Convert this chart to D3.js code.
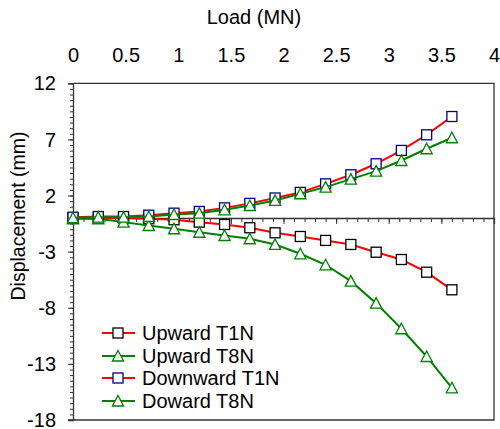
<!DOCTYPE html>
<html><head><meta charset="utf-8">
<script src="https://cdn.jsdelivr.net/npm/d3@7"></script>
<style>body{margin:0;background:#fff}svg{display:block}text{font-family:"Liberation Sans",Arial,sans-serif;fill:#000}</style>
</head><body><svg id="c" width="500" height="429"></svg>
<script>
const loads = [0, 0.24, 0.48, 0.72, 0.96, 1.2, 1.44, 1.68, 1.92, 2.16, 2.4, 2.64, 2.88, 3.12, 3.36, 3.6];
const upwardT1N = [0, 0, 0, -0.07, -0.16, -0.37, -0.58, -0.87, -1.32, -1.65, -2.0, -2.36, -3.05, -3.7, -4.83, -6.4];
const upwardT8N = [-0.07, -0.07, -0.37, -0.67, -0.96, -1.27, -1.56, -1.85, -2.36, -3.19, -4.17, -5.63, -7.59, -9.87, -12.34, -15.13];
const downwardT1N = [0.07, 0.13, 0.13, 0.25, 0.43, 0.58, 0.9, 1.3, 1.78, 2.28, 3.04, 3.85, 4.83, 6.02, 7.41, 9.04];
const dowardT8N = [0.02, 0.07, 0.07, 0.13, 0.31, 0.43, 0.73, 1.11, 1.56, 2.16, 2.75, 3.46, 4.17, 5.12, 6.17, 7.15];
const xTicks = [0, 0.5, 1, 1.5, 2, 2.5, 3, 3.5, 4];
const yTicks = [12, 7, 2, -3, -8, -13, -18];
const seriesNames = ["Upward T1N", "Upward T8N", "Downward T1N", "Doward T8N"];

const series = [
  {name: seriesNames[0], values: upwardT1N, line: "#ff0000", mark: "square", stroke: "#000000"},
  {name: seriesNames[1], values: upwardT8N, line: "#008000", mark: "tri", stroke: "#008000"},
  {name: seriesNames[2], values: downwardT1N, line: "#ff0000", mark: "square", stroke: "#000080"},
  {name: seriesNames[3], values: dowardT8N, line: "#008000", mark: "tri", stroke: "#008000"}
];

const L = 73, R = 494, T = 83.3, B = 420;
const x = d3.scaleLinear().domain([0, 4]).range([L, R]);
const y = d3.scaleLinear().domain([-18, 12]).range([B, T]);
const svg = d3.select("#c");
const font = 20;

// frame
svg.append("path").attr("d", `M${L},${T}H${R}V${B}H${L-5}`).attr("fill", "none").attr("stroke", "#333").attr("stroke-width", 1.3);

// y axis minor
const yMinor = d3.range(-18, 12.01, 0.5);
svg.append("g").attr("transform", `translate(${L},0)`)
  .call(d3.axisLeft(y).tickValues(yMinor).tickSize(3).tickFormat(""))
  .call(g => g.select(".domain").remove())
  .call(g => g.selectAll("line").attr("stroke", "#333"));
const ya = svg.append("g").attr("transform", `translate(${L},0)`)
  .call(d3.axisLeft(y).tickValues(yTicks).tickSize(5).tickPadding(12).tickFormat(d => d));
ya.select(".domain").attr("stroke", "#333").attr("stroke-width", 1.3);
ya.selectAll("line").attr("stroke", "#333");
ya.selectAll("text").style("font-size", font + "px").style("font-family", '"Liberation Sans", Arial, sans-serif').attr("fill", "#000").attr("dy", "0.33em");

// x axis on zero line
const xMinor = d3.range(0, 4.001, 0.1);
svg.append("g").attr("transform", `translate(0,${y(0)})`)
  .call(d3.axisBottom(x).tickValues(xMinor).tickSize(4).tickFormat(""))
  .call(g => g.select(".domain").remove())
  .call(g => g.selectAll("line").attr("stroke", "#333"));
const xa = svg.append("g").attr("transform", `translate(0,${y(0)})`)
  .call(d3.axisBottom(x).tickValues(xTicks).tickSize(6).tickFormat(""));
xa.select(".domain").attr("stroke", "#333").attr("stroke-width", 1.3);
xa.selectAll("line").attr("stroke", "#333");

// x labels at top
const xl = svg.append("g").attr("transform", `translate(0,62)`)
  .call(d3.axisTop(x).tickValues(xTicks).tickSize(0).tickPadding(0).tickFormat(d => d));
xl.select(".domain").remove();
xl.selectAll("text").style("font-size", font + "px").style("font-family", '"Liberation Sans", Arial, sans-serif').attr("fill", "#000");

svg.append("text").attr("x", 254).attr("y", 24).attr("text-anchor", "middle").style("font-size", font + "px").text("Load (MN)");
svg.append("text").attr("transform", `translate(25,216) rotate(-90)`).attr("text-anchor", "middle").style("font-size", "19.5px").text("Displacement (mm)");

const line = d3.line().x(d => x(d[0])).y(d => y(d[1]));
function marker(g, type, stroke) {
  if (type === "square") {
    g.append("rect").attr("x", -5).attr("y", -5).attr("width", 10).attr("height", 10)
      .attr("fill", "#fff").attr("stroke", stroke).attr("stroke-width", 1.3);
  } else {
    g.append("path").attr("d", "M0,-5.5L5.6,5L-5.6,5Z")
      .attr("fill", "#fff").attr("stroke", stroke).attr("stroke-width", 1.3);
  }
}
series.forEach(s => {
  const pts = loads.map((l, i) => [l, s.values[i]]);
  svg.append("path").datum(pts).attr("d", line).attr("fill", "none").attr("stroke", s.line).attr("stroke-width", 2);
  pts.forEach(p => {
    const g = svg.append("g").attr("transform", `translate(${x(p[0])},${y(p[1])})`);
    marker(g, s.mark, s.stroke);
  });
});

// legend
const ly = [333, 356, 378, 401];
series.forEach((s, i) => {
  const g = svg.append("g").attr("transform", `translate(0,${ly[i]})`);
  g.append("line").attr("x1", 102).attr("x2", 135).attr("y1", 0).attr("y2", 0).attr("stroke", s.line).attr("stroke-width", 2);
  const m = g.append("g").attr("transform", "translate(118,0)");
  marker(m, s.mark, s.stroke);
  g.append("text").attr("x", 142).attr("y", 0).attr("dy", "0.35em").style("font-size", font + "px").text(s.name);
});
</script></body></html>
